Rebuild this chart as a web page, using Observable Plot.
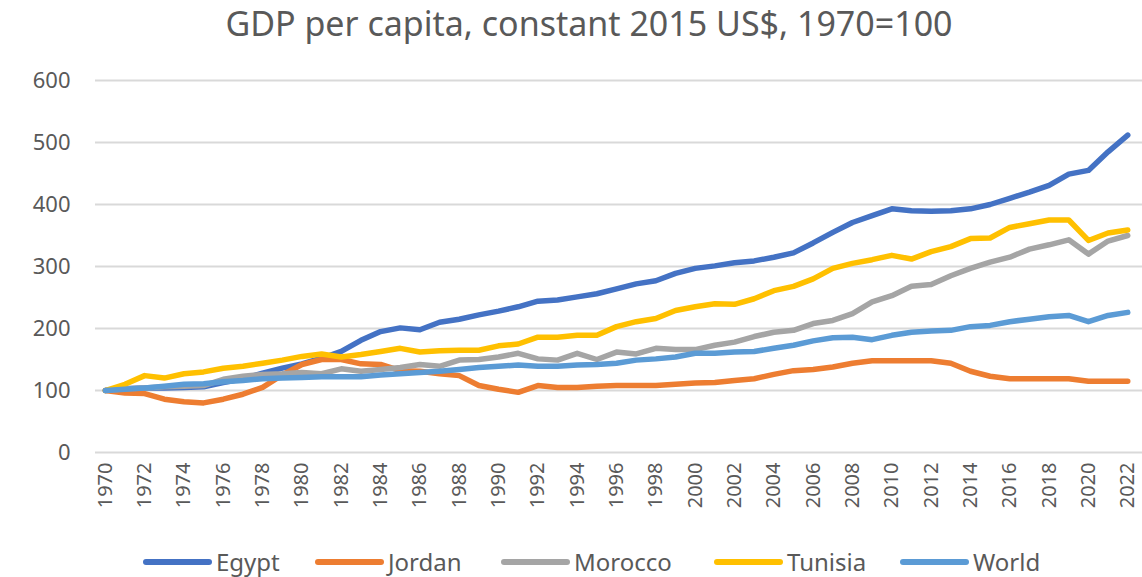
<!DOCTYPE html>
<html>
<head>
<meta charset="utf-8">
<script src="https://cdn.jsdelivr.net/npm/d3@7"></script>
<script src="https://cdn.jsdelivr.net/npm/@observablehq/plot@0.6"></script>
<style>
  html, body { margin: 0; padding: 0; background: #fff; }
  body { width: 1142px; height: 577px; position: relative; overflow: hidden; font-family: "Noto Sans", sans-serif; color: #595959; }
  #title { position: absolute; left: 18px; top: 0; width: 1142px; height: 50px; line-height: 46px; text-align: center; font-size: 34px; color: #595959; }
  #chart { position: absolute; left: 0; top: 50px; }
  #legend { position: absolute; left: 0; top: 549px; width: 1142px; height: 28px; font-size: 24px; line-height: 26px; color: #595959; }
  .item { position: absolute; top: 0; display: flex; align-items: center; white-space: nowrap; }
  .sw { width: 69px; height: 6px; border-radius: 3px; margin-right: 4px; }
</style>
</head>
<body>
<div id="title">GDP per capita, constant 2015 US$, 1970=100</div>
<div id="chart"></div>
<div id="legend"></div>
<script>
const years = d3.range(1970, 2023);
const seriesNames = ["Egypt", "Jordan", "Morocco", "Tunisia", "World"];
const seriesColors = ["#4472C4", "#ED7D31", "#A5A5A5", "#FFC000", "#5B9BD5"];
const yTicks = [0, 100, 200, 300, 400, 500, 600];
const xTicks = d3.range(1970, 2023, 2);

const egypt = [100,103,104,104,105,106,113,119,128,136,
  143,152,163,181,195,201,198,210,215,222,
  228,235,244,246,251,256,264,272,277,289,
  297,301,306,309,315,322,338,355,371,382,
  393,390,389,390,393,400,410,420,431,449,
  455,485,512];
const jordan = [100,96,95,86,82,80,86,94,105,125,
  142,150,150,143,142,132,131,127,124,108,
  102,97,108,105,105,107,108,108,108,110,
  112,113,116,119,126,132,134,138,144,148,
  148,148,148,144,131,123,119,119,119,119,
  115,115,115];
const morocco = [100,103,104,106,107,108,118,123,126,127,
  129,127,135,131,134,137,142,139,149,150,
  154,160,151,149,160,150,162,159,168,166,
  166,173,178,187,194,197,208,213,224,243,
  253,268,271,285,297,307,315,328,335,343,
  320,341,350];
const tunisia = [100,110,124,120,127,130,136,139,144,149,
  155,159,154,158,163,168,162,164,165,165,
  172,175,186,186,189,189,203,211,216,229,
  235,240,239,248,261,268,280,297,305,311,
  318,312,324,332,345,346,363,369,375,375,
  342,354,359];
const world = [100,102,104,107,110,111,114,116,119,120,
  121,122,122,122,125,127,129,131,134,137,
  139,141,139,139,141,142,144,149,151,154,
  160,160,162,163,168,173,180,185,186,182,
  189,194,196,197,203,205,211,215,219,221,
  211,221,226];

const seriesValues = [egypt, jordan, morocco, tunisia, world];
const data = [];
seriesNames.forEach((name, i) => {
  years.forEach((yr, j) => data.push({series: name, year: yr, value: seriesValues[i][j]}));
});

const font = "'Noto Sans', sans-serif";
const chart = Plot.plot({
  width: 1142,
  height: 492,
  marginTop: 30,
  marginLeft: 95,
  marginRight: 0,
  marginBottom: 90,
  style: {fontFamily: font, color: "#595959", background: "transparent", overflow: "visible"},
  x: {domain: [1969.5, 2022.75]},
  y: {domain: [0, 600]},
  color: {domain: seriesNames, range: seriesColors},
  marks: [
    Plot.gridY(yTicks, {stroke: "#D9D9D9", strokeOpacity: 1, strokeWidth: 2}),
    Plot.axisY(yTicks, {tickSize: 0, tickPadding: 25, fontSize: 22, fill: "#595959", label: null}),
    Plot.axisX(xTicks, {tickSize: 0, tickPadding: 10, tickRotate: -90, fontSize: 20, fill: "#595959", label: null, tickFormat: d => String(d)}),
    Plot.line(data, {x: "year", y: "value", z: "series", stroke: "series", strokeWidth: 5.5, strokeLinejoin: "round", strokeLinecap: "round"})
  ]
});
document.getElementById("chart").appendChild(chart);

const legendLeft = [143, 315, 501, 714, 900];
const legend = document.getElementById("legend");
seriesNames.forEach((name, i) => {
  const item = document.createElement("div");
  item.className = "item";
  item.style.left = legendLeft[i] + "px";
  const sw = document.createElement("div");
  sw.className = "sw";
  sw.style.background = seriesColors[i];
  const lab = document.createElement("span");
  lab.textContent = name;
  item.appendChild(sw);
  item.appendChild(lab);
  legend.appendChild(item);
});
</script>
</body>
</html>
